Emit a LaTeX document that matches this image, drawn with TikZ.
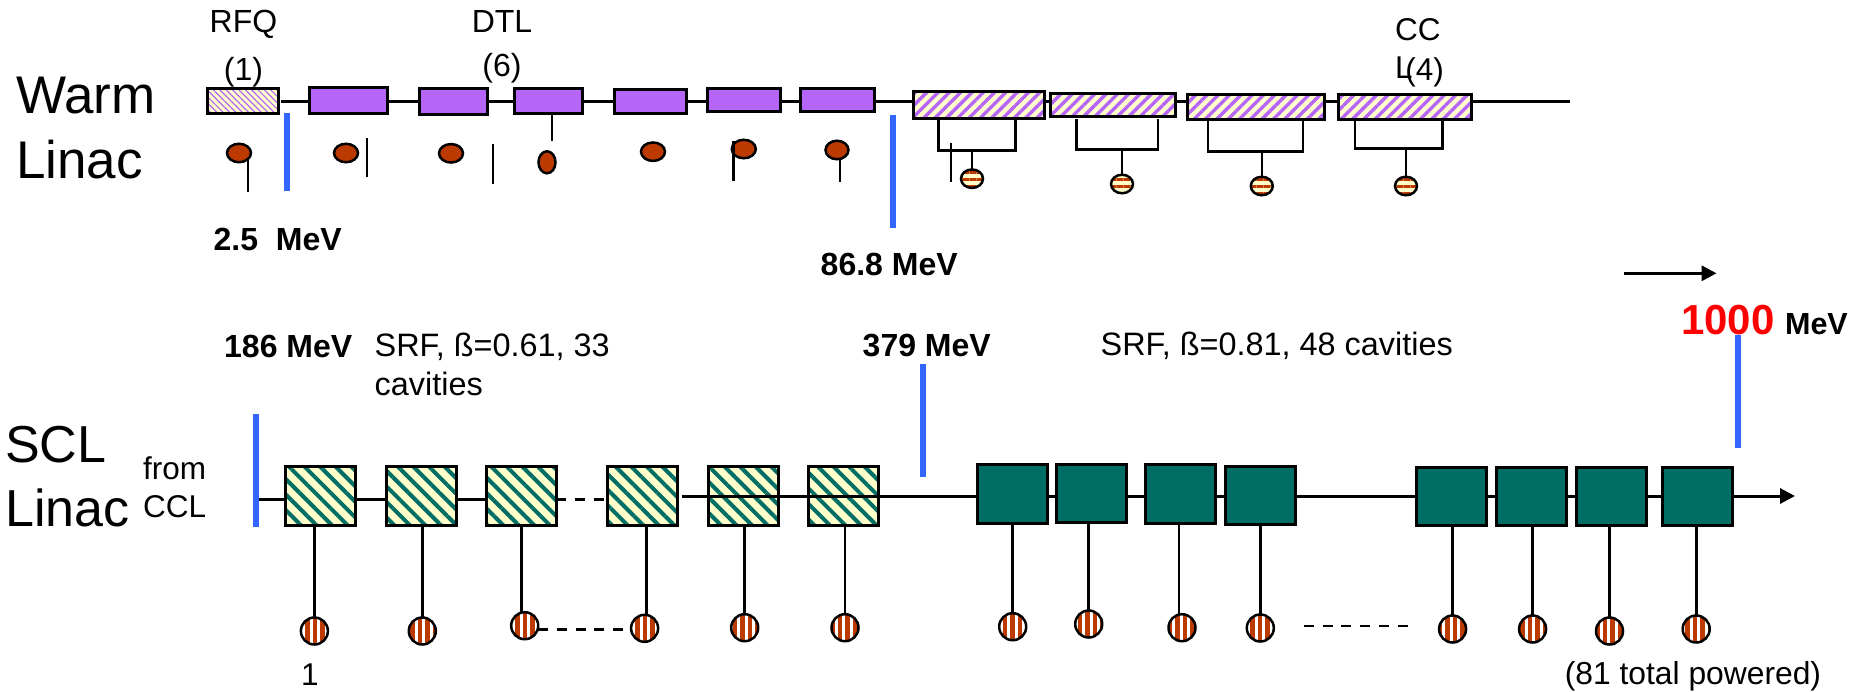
\documentclass[tikz,border=0pt]{standalone}
\usepackage{fontspec}
\setmainfont{Liberation Sans}
\usetikzlibrary{arrows.meta,patterns.meta,shapes.geometric}
\definecolor{purp}{HTML}{B565F8}
\definecolor{cream}{HTML}{FFFFCC}
\definecolor{teal}{HTML}{006E64}
\definecolor{rust}{HTML}{BC3A00}
\definecolor{barblue}{HTML}{3366FF}
\tikzset{
  cell/.style={draw=black, line width=3pt, inner sep=0pt, outer sep=0pt},
  rfqbox/.style={cell, preaction={fill=cream}, pattern={Lines[angle=-45,distance=4.5pt,line width=1.2pt]}, pattern color=purp},
  dtlbox/.style={cell, fill=purp},
  cclbox/.style={cell, preaction={fill=cream}, pattern={Lines[angle=45,distance=8pt,line width=3.4pt]}, pattern color=purp},
  lowbox/.style={cell, preaction={fill=cream}, pattern={Lines[angle=-45,distance=11pt,line width=4pt]}, pattern color=teal, minimum width=70pt, minimum height=59.5pt},
  highbox/.style={cell, fill=teal, minimum width=70pt, minimum height=58.5pt},
  drop/.style={ellipse, draw=black, line width=2.5pt, inner sep=0pt, outer sep=0pt},
  plainload/.style={drop, fill=rust, minimum width=24pt, minimum height=18.5pt},
  bandload/.style={drop, preaction={fill=cream}, pattern={Lines[distance=7pt,line width=3pt]}, pattern color=rust, minimum width=22pt, minimum height=18.5pt},
  stripeload/.style={drop, preaction={fill=white}, pattern={Lines[angle=90,distance=7.5pt,line width=4.2pt]}, pattern color=rust, minimum width=27pt, minimum height=27pt},
  beam/.style={line width=3pt},
  stem/.style={line width=2.6pt},
  tick/.style={line width=2pt},
  gapline/.style={line width=2.6pt, dash pattern=on 10pt off 8.7pt},
  bar/.style={draw=barblue, line width=6pt},
  big/.style={anchor=base west, inner sep=0pt, align=left, font=\fontsize{53}{64.5}\selectfont},
  lbl/.style={anchor=base west, inner sep=0pt, align=left, font=\fontsize{31.5}{38.5}\selectfont},
  srf/.style={lbl, font=\fontsize{32.4}{38.5}\selectfont},
  mev/.style={anchor=base west, inner sep=0pt, font=\fontsize{32}{38}\selectfont\bfseries}
}
\begin{document}
\begin{tikzpicture}[x=1pt, y=-1pt, >={Triangle[length=15pt,width=15pt]}]
    \useasboundingbox (0,0) rectangle (1850,691);
    % 見出し
    \node[big] (warm) at (16,178) {Warm\\Linac};
    \node[big, font=\fontsize{52}{64.5}\selectfont] (scl) at (5,526.7) {SCL\\Linac};
    \node[lbl] (from) at (143,517.7) {from\\CCL};
    \node[lbl, anchor=base, align=center, font=\fontsize{32}{48}\selectfont] (rfqname) at (243.5,80) {RFQ\\(1)};
    \node[lbl, anchor=base, align=center, font=\fontsize{32}{44}\selectfont] (dtlname) at (502,76) {DTL\\(6)};
    \node[lbl, font=\fontsize{31.5}{38}\selectfont] (cclname) at (1395,78.3) {CC\\L};
    \node[lbl, anchor=base] (cclcount) at (1424.5,80) {(4)};
    % 上段の箱
    \node[rfqbox, minimum width=71pt, minimum height=25.5pt] (rfq) at (242.5,101) {};
    \node[dtlbox, minimum width=78pt, minimum height=25.5pt] (dtla) at (348,100.5) {};
    \node[dtlbox, minimum width=68pt, minimum height=26pt] (dtlb) at (453.7,101) {};
    \node[dtlbox, minimum width=68pt, minimum height=25pt] (dtlc) at (548.8,101) {};
    \node[dtlbox, minimum width=72pt, minimum height=24pt] (dtld) at (650.5,101) {};
    \node[dtlbox, minimum width=73pt, minimum height=23pt] (dtle) at (743.8,99.5) {};
    \node[dtlbox, minimum width=74pt, minimum height=23pt] (dtlf) at (837,99.5) {};
    \node[cclbox, minimum width=131pt, minimum height=27pt] (ccla) at (979,105) {};
    \node[cclbox, minimum width=125pt, minimum height=23pt] (cclb) at (1113,105) {};
    \node[cclbox, minimum width=137pt, minimum height=25pt] (cclc) at (1256.2,106.7) {};
    \node[cclbox, minimum width=133pt, minimum height=25pt] (ccld) at (1404.6,106.7) {};
    % ビーム線(上段)
    \coordinate (beamtop) at (281,101);
    \coordinate (beamend) at (1570,101);
    \draw[beam] (beamtop) -- (dtla.west |- beamtop);
    \draw[beam] (dtla.east |- beamtop) -- (dtlb.west |- beamtop);
    \draw[beam] (dtlb.east |- beamtop) -- (dtlc.west |- beamtop);
    \draw[beam] (dtlc.east |- beamtop) -- (dtld.west |- beamtop);
    \draw[beam] (dtld.east |- beamtop) -- (dtle.west |- beamtop);
    \draw[beam] (dtle.east |- beamtop) -- (dtlf.west |- beamtop);
    \draw[beam] (dtlf.east |- beamtop) -- (ccla.west |- beamtop);
    \draw[beam] (ccla.east |- beamtop) -- (cclb.west |- beamtop);
    \draw[beam] (cclb.east |- beamtop) -- (cclc.west |- beamtop);
    \draw[beam] (cclc.east |- beamtop) -- (ccld.west |- beamtop);
    \draw[beam] (ccld.east |- beamtop) -- (beamend);
    % 上段の負荷
    \node[plainload] (ova) at (239,153) {};
    \node[plainload] (ovb) at (346,153) {};
    \node[plainload] (ovc) at (451,153.3) {};
    \node[plainload, minimum width=17pt, minimum height=22pt] (ovd) at (547,162.3) {};
    \node[plainload] (ove) at (653,151.7) {};
    \node[plainload] (ovf) at (743.8,149) {};
    \node[plainload, minimum width=23pt] (ovg) at (837,150) {};
    \draw[tick] (248,160) -- (248,192);
    \draw[tick] (367.3,138) -- (367.3,177);
    \draw[tick] (492.7,144) -- (492.7,184);
    \draw[stem] (552,114) -- (552,141);
    \draw[stem] (733.5,141) -- (733.5,181);
    \draw[tick] (840,160) -- (840,182);
    \draw[tick] (951,142.7) -- (951,181.7);
    % CCL の枝
    \node[bandload] (cka) at (972,178.7) {};
    \node[bandload] (ckb) at (1122,184) {};
    \node[bandload] (ckc) at (1261.8,186) {};
    \node[bandload] (ckd) at (1406,186) {};
    \coordinate (brka) at (972,150.7);
    \coordinate (brkb) at (1122,149.7);
    \coordinate (brkc) at (1261.8,151.7);
    \coordinate (brkd) at (1406,148.3);
    \draw[stem] (938.3,119) -- (938.3,150.7) -- (1015.4,150.7) -- (1015.4,119);
    \draw[stem] (1076.7,119) -- (1076.7,149.7) -- (1157.8,149.7) -- (1157.8,119);
    \draw[stem] (1208,120) -- (1208,151.7) -- (1303,151.7) -- (1303,120);
    \draw[stem] (1354.8,120) -- (1354.8,148.3) -- (1442.3,148.3) -- (1442.3,120);
    \draw[tick] (brka) -- (cka);
    \draw[tick] (brkb) -- (ckb);
    \draw[tick] (brkc) -- (ckc);
    \draw[tick] (brkd) -- (ckd);
    % 下段の箱
    \node[lowbox] (ga) at (320.8,496.2) {};
    \node[lowbox] (gb) at (421,496.2) {};
    \node[lowbox] (gc) at (521.2,496.2) {};
    \node[lowbox] (gd) at (642.8,496.2) {};
    \node[lowbox] (ge) at (743,496.2) {};
    \node[lowbox] (gf) at (843.2,496.2) {};
    \node[highbox] (da) at (1012.2,493.8) {};
    \node[highbox] (db) at (1091.8,493.6) {};
    \node[highbox] (dc) at (1180,494.2) {};
    \node[highbox] (dd) at (1260,495.4) {};
    \node[highbox] (de) at (1451.8,496.5) {};
    \node[highbox] (df) at (1531.7,496.5) {};
    \node[highbox] (dg) at (1611.7,496.5) {};
    \node[highbox] (dh) at (1697.3,496.5) {};
    % ビーム線(下段)
    \coordinate (beamlow) at (256,499.3);
    \coordinate (beammid) at (681.8,496.3);
    \coordinate (beamout) at (1795,496);
    \draw[beam] (beamlow) -- (ga.west |- beamlow);
    \draw[beam] (ga.east |- beamlow) -- (gb.west |- beamlow);
    \draw[beam] (gb.east |- beamlow) -- (gc.west |- beamlow);
    \draw[gapline] (gc.east |- beamlow) -- (gd.west |- beamlow);
    \draw[beam] (beammid) -- (da.west |- beammid);
    \draw[beam] (da.east |- beammid) -- (db.west |- beammid);
    \draw[beam] (db.east |- beammid) -- (dc.west |- beammid);
    \draw[beam] (dc.east |- beammid) -- (dd.west |- beammid);
    \draw[beam] (dd.east |- beammid) -- (de.west |- beammid);
    \draw[beam] (de.east |- beammid) -- (df.west |- beammid);
    \draw[beam] (df.east |- beammid) -- (dg.west |- beammid);
    \draw[beam] (dg.east |- beammid) -- (dh.west |- beammid);
    \draw[beam, ->] (dh.east |- beamout) -- (beamout);
    % 下段の負荷
    \node[stripeload] (sa) at (314.4,631) {};
    \node[stripeload] (sb) at (422.3,631) {};
    \node[stripeload] (sc) at (524.7,625.7) {};
    \node[stripeload] (sd) at (644.6,628.3) {};
    \node[stripeload] (se) at (744.7,627.7) {};
    \node[stripeload] (sf) at (845,627.7) {};
    \node[stripeload] (ta) at (1012.7,626.7) {};
    \node[stripeload] (tb) at (1088.7,624) {};
    \node[stripeload] (tc) at (1182,627.7) {};
    \node[stripeload] (td) at (1260.3,628) {};
    \node[stripeload] (te) at (1452.6,629) {};
    \node[stripeload] (tf) at (1532.6,629) {};
    \node[stripeload] (tg) at (1609.5,631) {};
    \node[stripeload] (th) at (1696.2,629) {};
    \draw[stem] (sa.north |- ga.south) -- (sa.north);
    \draw[stem] (sb.north |- gb.south) -- (sb.north);
    \draw[stem] ([xshift=-3pt]sc.north |- gc.south) -- ([xshift=-3pt]sc.north);
    \draw[stem] ([xshift=2pt]sd.north |- gd.south) -- ([xshift=2pt]sd.north);
    \draw[stem] (se.north |- ge.south) -- (se.north);
    \draw[stem] (sf.north |- gf.south) -- (sf.north);
    \draw[stem] (ta.north |- da.south) -- (ta.north);
    \draw[stem] (tb.north |- db.south) -- (tb.north);
    \draw[stem] ([xshift=-3pt]tc.north |- dc.south) -- ([xshift=-3pt]tc.north);
    \draw[stem] (td.north |- dd.south) -- (td.north);
    \draw[stem] (te.north |- de.south) -- (te.north);
    \draw[stem] (tf.north |- df.south) -- (tf.north);
    \draw[stem] (tg.north |- dg.south) -- (tg.north);
    \draw[stem] (th.north |- dh.south) -- (th.north);
    \coordinate (gapc) at (600,629.3);
    \draw[gapline] (sc.east |- gapc) -- (sd.west |- gapc);
    \coordinate (gapa) at (1304,626);
    \coordinate (gapb) at (1408.6,626);
    \draw[gapline] (gapa) -- (gapb);
    % エネルギーの印
    \draw[bar] (287,113) -- (287,191);
    \draw[bar] (892.8,115) -- (892.8,228);
    \draw[bar] (256,414) -- (256,526.7);
    \draw[bar] (923,364) -- (923,476.7);
    \draw[bar] (1738,335) -- (1738,447.7);
    % 向きの矢印
    \coordinate (dira) at (1624,273.3);
    \coordinate (dirb) at (1716.6,273.3);
    \draw[beam, ->] (dira) -- (dirb);
    % ラベル
    \node[mev] (mevrfq) at (213.5,250.7) {2.5\ \ MeV};
    \node[mev] (mevdtl) at (820.5,275) {86.8 MeV};
    \node[mev] (mevccl) at (224,357.7) {186 MeV};
    \node[mev] (mevlow) at (862.5,356.7) {379 MeV};
    \node[mev, font=\fontsize{30.5}{38}\selectfont\bfseries] (mevtop) at (1681,334.3) {{\fontsize{42}{46}\selectfont\color{red}1000} \kern2pt MeV};
    \node[srf] (srflow) at (374.5,395) {SRF, ß=0.61, 33\\cavities};
    \node[srf] (srfhigh) at (1100.5,355.7) {SRF, ß=0.81, 48 cavities};
    \node[lbl] (first) at (301,685) {1};
    \node[lbl, font=\fontsize{31.8}{38}\selectfont] (total) at (1564.6,684.3) {(81 total powered)};
\end{tikzpicture}
\end{document}
